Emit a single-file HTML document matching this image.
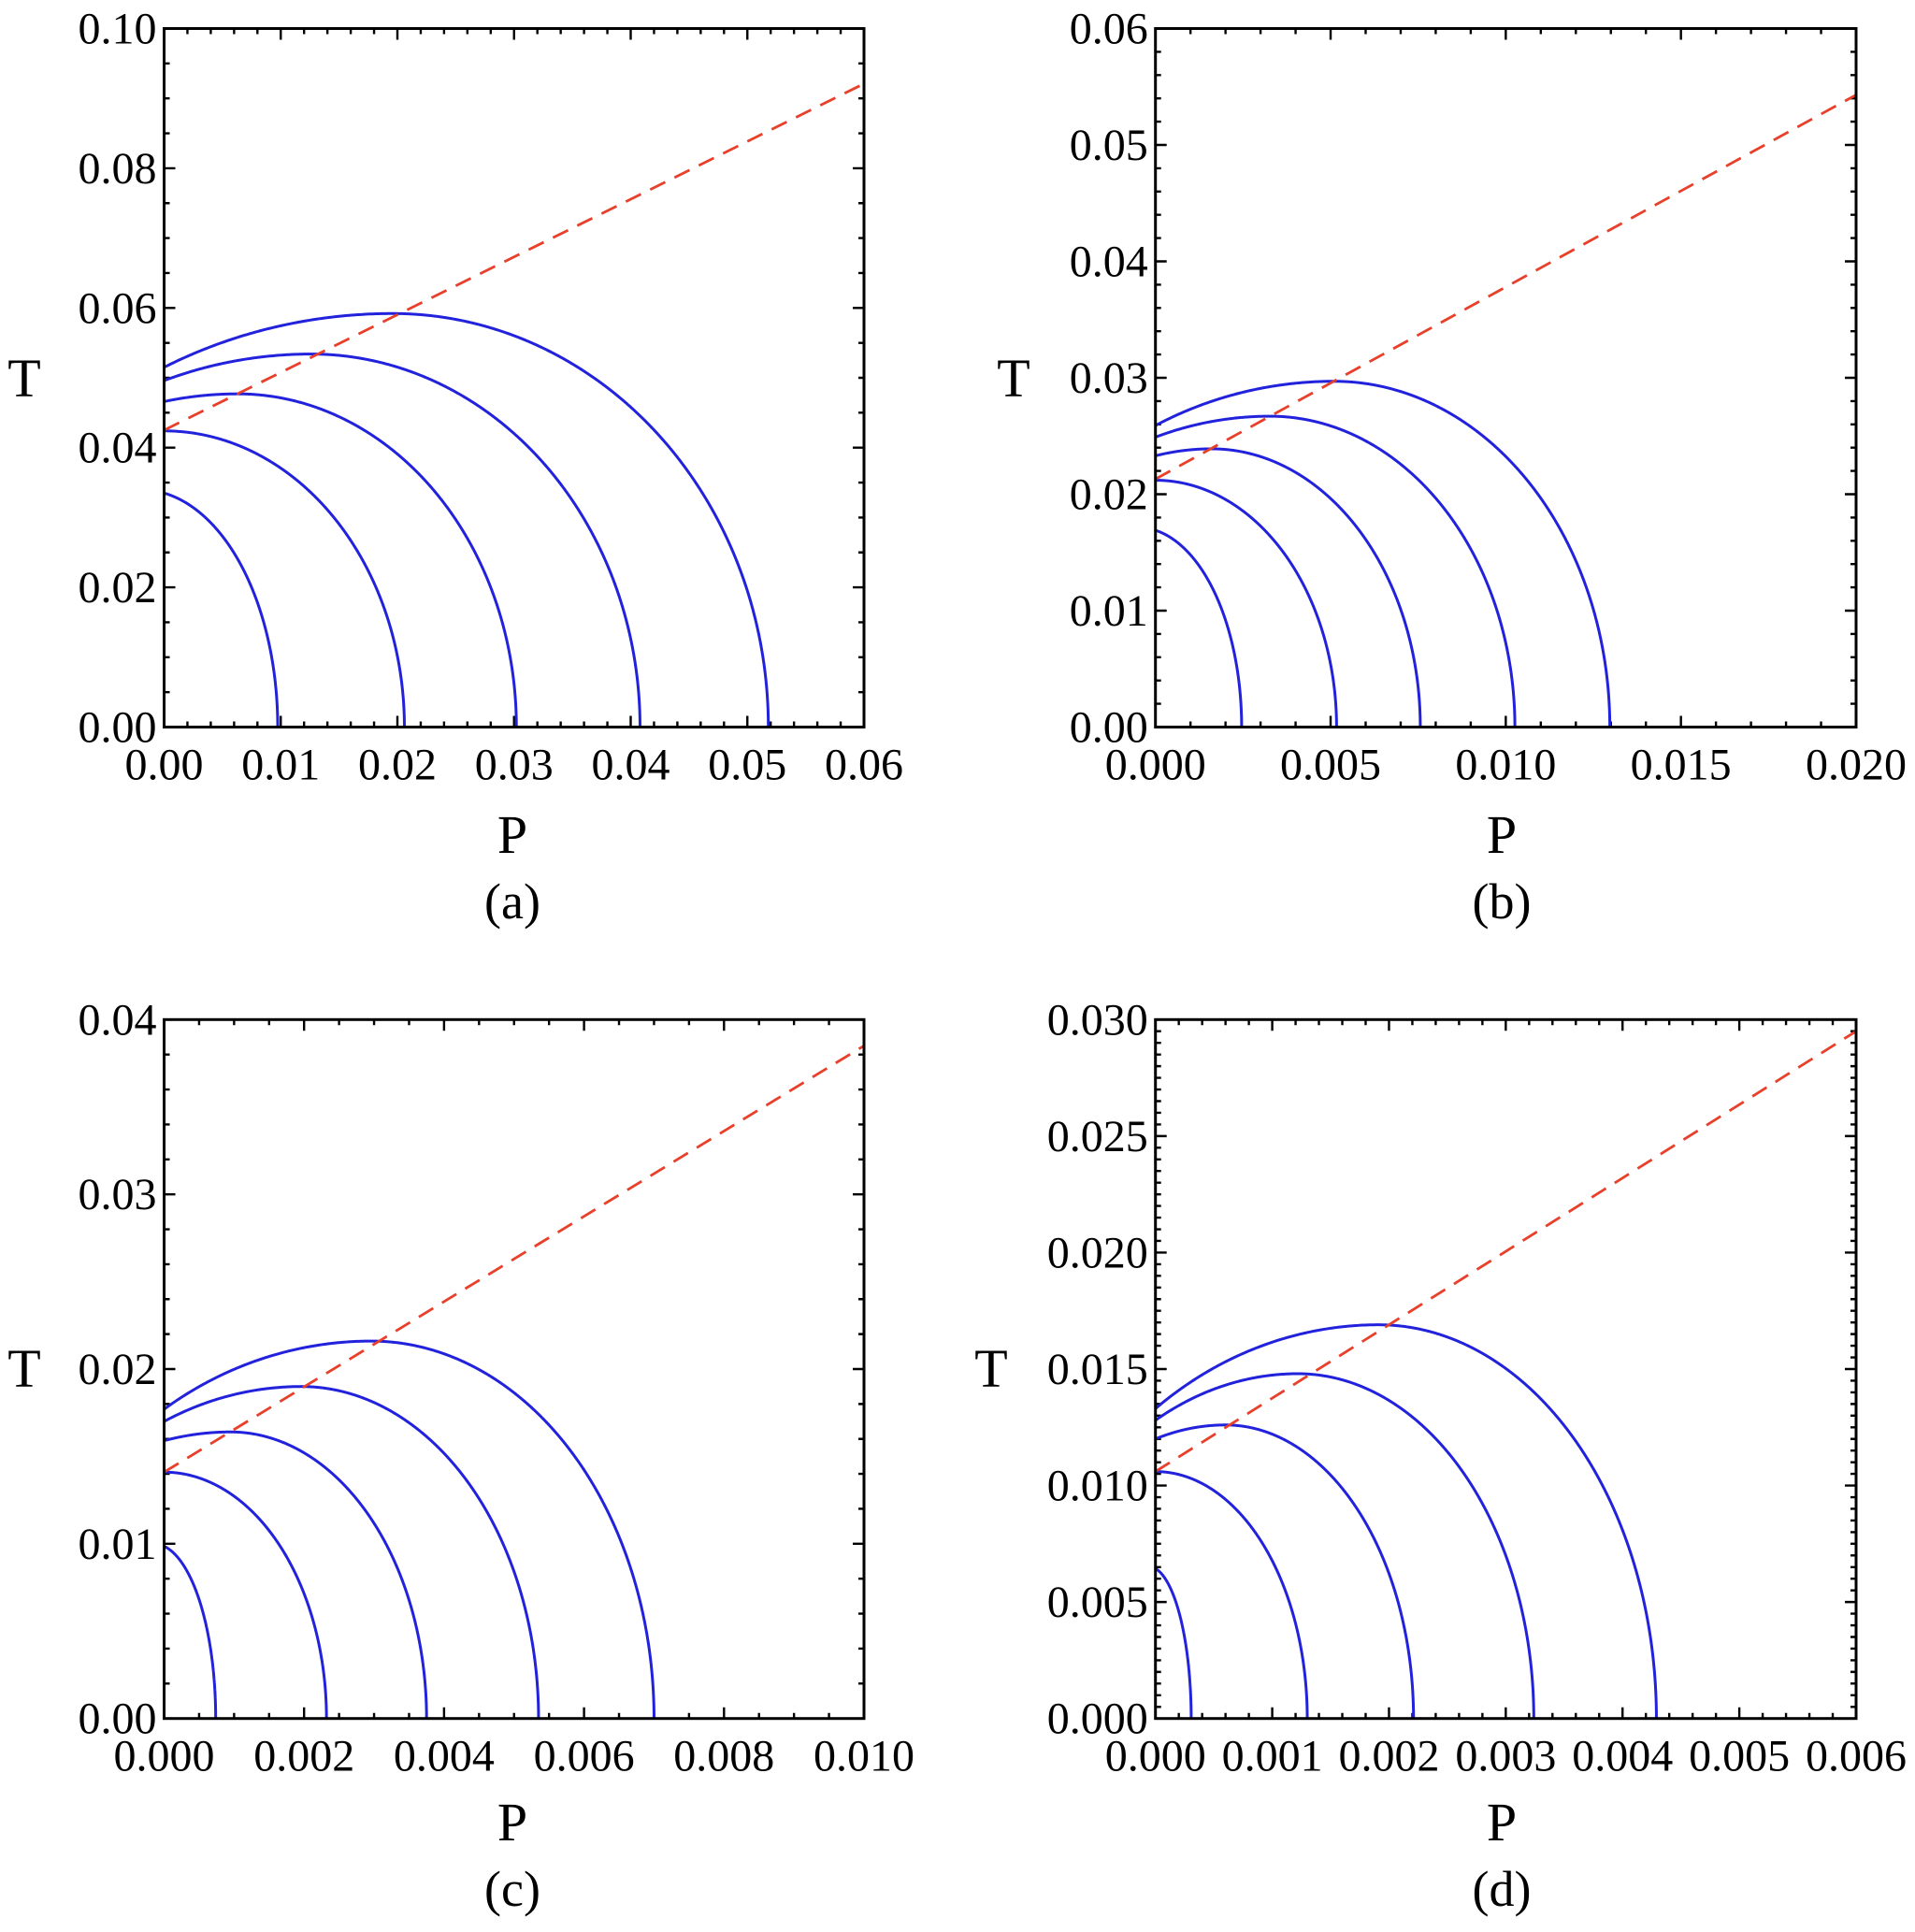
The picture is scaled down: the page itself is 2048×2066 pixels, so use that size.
<!DOCTYPE html>
<html><head><meta charset="utf-8"><style>
html,body{margin:0;padding:0;background:#fff;}
svg text{font-family:"Liberation Serif",serif;fill:#000;}
</style></head><body>
<svg id="s" xmlns="http://www.w3.org/2000/svg" width="2048" height="2061" viewBox="0 0 2048 2061"></svg>
<script>
const S=document.getElementById('s');let h='';
const panels=[
 {x0:175.5,x1:924,y0:777.5,y1:30.5,xmax:0.06,ymax:0.10,xmaj:0.01,xmin:0.002,ymaj:0.02,ymin:0.005,xd:2,yd:2,
  lab:'(a)',cx:548,T:[26,404],P:892,L:964,
  curves:[[0.0335,null,null,0.00974],[0.0424,0,0.0424,0.0206],[0.0466,0.0063,0.0477,0.0302],[0.0496,0.0126,0.0534,0.0408],[0.0515,0.0196,0.0592,0.0518]],
  dash:[0.0425,0.0921]},
 {x0:1235.7,x1:1985,y0:777.5,y1:30.5,xmax:0.02,ymax:0.06,xmaj:0.005,xmin:0.001,ymaj:0.01,ymin:0.002,xd:3,yd:2,
  lab:'(b)',cx:1606,T:[1084,404],P:892,L:964,
  curves:[[0.0169,null,null,0.00246],[0.0212,0,0.0212,0.00517],[0.0233,0.0016,0.0239,0.00756],[0.0249,0.00327,0.0267,0.01026],[0.0259,0.0051,0.0297,0.01297]],
  dash:[0.0213,0.0543]},
 {x0:175.5,x1:924,y0:1837.7,y1:1090.3,xmax:0.01,ymax:0.04,xmaj:0.002,xmin:0.0005,ymaj:0.01,ymin:0.002,xd:3,yd:2,
  lab:'(c)',cx:548,T:[26,1463],P:1948,L:2020,
  curves:[[0.00986,null,null,0.000737],[0.0141,0,0.0141,0.00232],[0.0159,0.00095,0.0164,0.00375],[0.0170,0.00196,0.0190,0.00535],[0.0177,0.00296,0.0216,0.0070]],
  dash:[0.0141,0.0385]},
 {x0:1235.7,x1:1985,y0:1837.7,y1:1090.3,xmax:0.006,ymax:0.03,xmaj:0.001,xmin:0.0002,ymaj:0.005,ymin:0.0005,xd:3,yd:3,
  lab:'(d)',cx:1606,T:[1060,1463],P:1948,L:2020,
  curves:[[0.00644,null,null,0.000306],[0.0106,0,0.0106,0.0013],[0.0120,0.0006,0.0126,0.00221],[0.0128,0.00122,0.0148,0.00324],[0.0133,0.00191,0.0169,0.00429]],
  dash:[0.0106,0.0295]}
];
const n=2.0;
for(const p of panels){
 const X=v=>p.x0+(p.x1-p.x0)*v/p.xmax, Y=v=>p.y0-(p.y0-p.y1)*v/p.ymax;
 let t='';
 const nx=Math.round(p.xmax/p.xmin);
 for(let i=0;i<=nx;i++){const v=i*p.xmin;const maj=Math.abs(v/p.xmaj-Math.round(v/p.xmaj))<1e-6;const L=maj?12:6;const x=X(v);
  t+=`M${x},${p.y0}v${-L}M${x},${p.y1}v${L}`;}
 const ny=Math.round(p.ymax/p.ymin);
 for(let i=0;i<=ny;i++){const v=i*p.ymin;const maj=Math.abs(v/p.ymaj-Math.round(v/p.ymaj))<1e-6;const L=maj?12:6;const y=Y(v);
  t+=`M${p.x0},${y}h${L}M${p.x1},${y}h${-L}`;}
 h+=`<path d="${t}" stroke="#000" stroke-width="2.4" fill="none"/>`;
 for(let i=0;i<=Math.round(p.xmax/p.xmaj);i++){const v=i*p.xmaj;h+=`<text x="${X(v)}" y="${p.y0+56}" font-size="48" text-anchor="middle">${v.toFixed(p.xd)}</text>`;}
 for(let i=0;i<=Math.round(p.ymax/p.ymaj);i++){const v=i*p.ymaj;h+=`<text x="${p.x0-8}" y="${Y(v)+16}" font-size="48" text-anchor="end">${v.toFixed(p.yd)}</text>`;}
 h+=`<text x="${p.T[0]}" y="${p.T[1]+20}" font-size="58" text-anchor="middle">T</text>`;
 h+=`<text x="${p.cx}" y="${p.P+20}" font-size="58" text-anchor="middle">P</text>`;
 h+=`<text x="${p.cx}" y="${p.L+18}" font-size="54" text-anchor="middle">${p.lab}</text>`;
 for(const c of p.curves){let [T0,Pm,Tm,Pe]=c;
  if(Pm===null){Pm=-0.2*Pe;const a=Pe-Pm;Tm=T0/Math.pow(1-Math.pow(-Pm/a,n),1/n);}
  const pts=[];
  if(Pm>0){const aL=Pm/Math.sqrt(1-(T0/Tm)**2);
   for(let i=0;i<=100;i++){const P=Pm*i/100;const u=(Pm-P)/aL;pts.push([P,Tm*Math.sqrt(Math.max(0,1-u*u))]);}}
  const a=Pe-Pm;
  for(let i=0;i<=600;i++){const s=i/600;const u=1-(1-s)*(1-s);const P=Pm+a*u;if(P<0)continue;
   pts.push([P,Tm*Math.pow(Math.max(0,1-Math.pow(u,n)),1/n)]);}
  h+=`<polyline points="${pts.map(q=>X(q[0]).toFixed(2)+','+Y(q[1]).toFixed(2)).join(' ')}" fill="none" stroke="#2222dd" stroke-width="3"/>`;
 }
 h+=`<line x1="${p.x0}" y1="${Y(p.dash[0])}" x2="${p.x1}" y2="${Y(p.dash[1])}" stroke="#e8402a" stroke-width="2.8" stroke-dasharray="18,11"/>`;
 h+=`<rect x="${p.x0}" y="${p.y1}" width="${p.x1-p.x0}" height="${p.y0-p.y1}" fill="none" stroke="#000" stroke-width="3"/>`;
}
S.innerHTML=h;
</script>
</body></html>
